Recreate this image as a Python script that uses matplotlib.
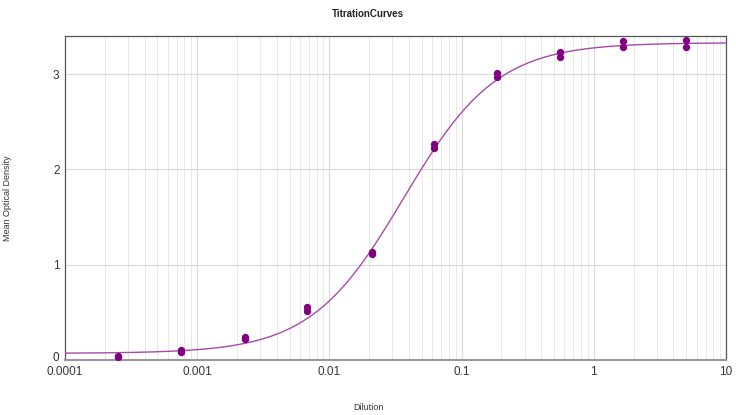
import numpy as np
import matplotlib
matplotlib.use("Agg")
import matplotlib.pyplot as plt
import matplotlib.transforms as mtransforms
from matplotlib.ticker import LogLocator, FixedLocator, NullFormatter

plt.rcParams['font.family'] = ['Liberation Sans', 'DejaVu Sans']

# Data: duplicate wells at each dilution
dilutions = [0.00025, 0.00075, 0.0023, 0.0068, 0.021, 0.062, 0.185, 0.555, 1.67, 5.0]
od_rep1 = [0.03, 0.08, 0.22, 0.51, 1.11, 2.22, 2.97, 3.18, 3.28, 3.28]
od_rep2 = [0.04, 0.10, 0.24, 0.56, 1.13, 2.27, 3.01, 3.23, 3.35, 3.355]

# Fitted 4-parameter logistic curve parameters
fit_bottom = 0.07
fit_top = 3.33
fit_ec50 = 0.0365
fit_hill = 1.23

title = "TitrationCurves"
xlabel = "Dilution"
ylabel = "Mean Optical Density"
xtick_vals = [0.0001, 0.001, 0.01, 0.1, 1, 10]
xtick_labels = ["0.0001", "0.001", "0.01", "0.1", "1", "10"]
ytick_vals = [0, 1, 2, 3]

fig = plt.figure(figsize=(7.36, 4.15), dpi=100)
ax = fig.add_axes([65/736, 1 - 360/415, (726-65)/736, (360-36)/415])

xs = np.logspace(-4, 1, 400)
ys = fit_bottom + (fit_top - fit_bottom) / (1 + (fit_ec50 / xs) ** fit_hill)
ax.plot(xs, ys, color='#a84aa8', lw=1.0, zorder=3)

x_all = dilutions + dilutions
y_all = od_rep1 + od_rep2
ax.scatter(x_all, y_all, s=28, color='#800080', zorder=4, linewidths=0)

ax.set_xscale('log')
ax.set_xlim(0.0001, 10)
ax.set_ylim(0, 3.4)
ax.xaxis.set_major_locator(FixedLocator(xtick_vals))
ax.set_xticks(xtick_vals)
ax.set_xticklabels(xtick_labels)
ax.xaxis.set_minor_locator(LogLocator(base=10, subs=np.arange(2, 10), numticks=50))
ax.xaxis.set_minor_formatter(NullFormatter())
ax.set_yticks(ytick_vals)

ax.grid(True, which='major', color='#dadada', lw=0.8)
ax.grid(True, which='minor', axis='x', color='#e4e4e4', lw=0.6)
ax.set_axisbelow(True)

ax.tick_params(which='both', length=0, labelsize=8.5, colors='#333333', pad=4)
# nudge the "0" label up a little so it doesn't collide with "0.0001"
ylabels = ax.get_yticklabels()
offset = mtransforms.ScaledTranslation(0, 4/100, fig.dpi_scale_trans)
ylabels[0].set_transform(ylabels[0].get_transform() + offset)

for s in ax.spines.values():
    s.set_color('#555555')
    s.set_linewidth(0.9)
ax.spines['bottom'].set_color('#999999')
ax.spines['bottom'].set_linewidth(1.5)

fig.text(368/736, 1 - 14/415, title, ha='center', va='center', fontsize=7, fontweight='bold', color='#222222')
fig.text(368/736, 1 - 407/415, xlabel, ha='center', va='center', fontsize=6.5, color='#333333')
fig.text(8/736, 1 - 198/415, ylabel, ha='center', va='center', rotation=90, fontsize=6.5, color='#333333')

fig.savefig('out.png', dpi=100)
